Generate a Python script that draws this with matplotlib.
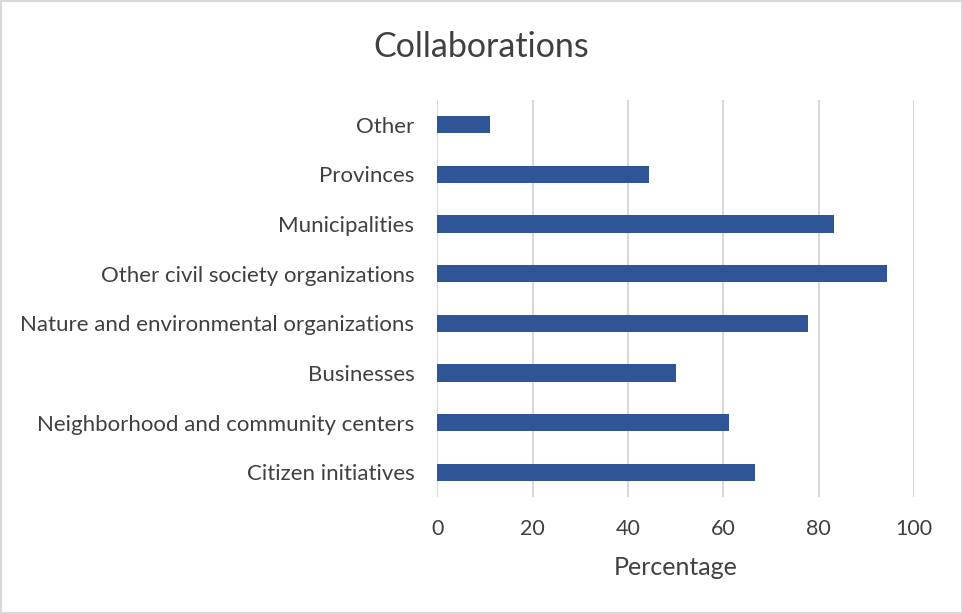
import matplotlib
matplotlib.use("Agg")
import matplotlib.pyplot as plt
from matplotlib.patches import Rectangle

plt.rcParams['font.family'] = ['Lato', 'DejaVu Sans']

# Share of organisations collaborating with each partner type (%)
categories = [
    "Citizen initiatives",
    "Neighborhood and community centers",
    "Businesses",
    "Nature and environmental organizations",
    "Other civil society organizations",
    "Municipalities",
    "Provinces",
    "Other",
]
percentages = [66.7, 61.1, 50.0, 77.8, 94.4, 83.3, 44.4, 11.1]
x_ticks = [0, 20, 40, 60, 80, 100]

text_color = "#404040"
bar_color = "#2F5597"
grid_color = "#D9D9D9"

fig = plt.figure(figsize=(9.63, 6.14), dpi=100)
ax = fig.add_axes([437.3 / 963, 1 - 497 / 614, (914 - 437.3) / 963, 397 / 614])

ax.barh(range(len(categories)), percentages, height=0.35, color=bar_color,
        zorder=3)

ax.set_xlim(0, 100)
ax.set_ylim(-0.5, len(categories) - 0.5)
ax.set_xticks(x_ticks)
ax.set_yticks(range(len(categories)))
ax.set_yticklabels(categories)

ax.tick_params(axis='y', length=0, pad=16.5, labelsize=16, labelcolor=text_color)
ax.tick_params(axis='x', length=0, pad=16, labelsize=15.5, labelcolor=text_color)

ax.grid(axis='x', color=grid_color, linewidth=1.5, zorder=0)
for side in ax.spines.values():
    side.set_visible(False)

ax.set_xlabel("Percentage", fontsize=18, color=text_color, labelpad=12)
fig.text(481 / 963, 1 - 47 / 614, "Collaborations", ha='center', va='center',
         fontsize=24.5, color=text_color)

# light frame around the whole chart
fig.patches.append(Rectangle((0.001, 0.001), 0.998, 0.997, transform=fig.transFigure,
                             fill=False, edgecolor=grid_color, linewidth=1.5))

fig.savefig("out.png", dpi=100)
